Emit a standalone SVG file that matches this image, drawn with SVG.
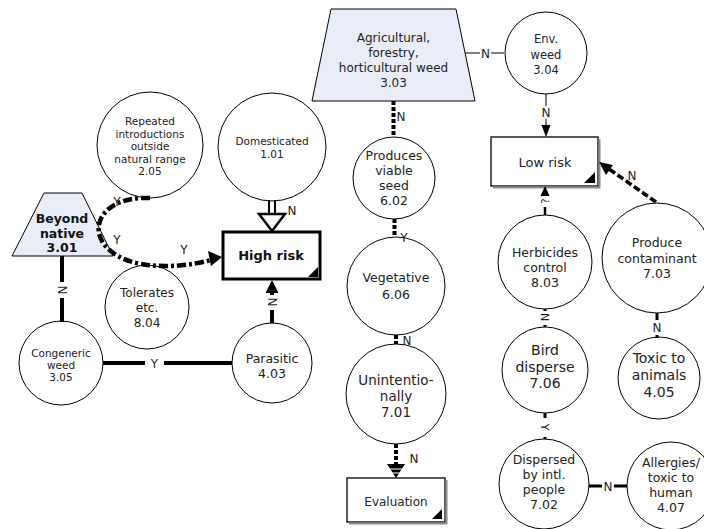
<svg xmlns="http://www.w3.org/2000/svg" width="704" height="529" viewBox="0 0 704 529">
<style>
text{font-family:"DejaVu Sans",Verdana,sans-serif;fill:#222;text-anchor:middle}
.c{fill:#fff;stroke:#000;stroke-width:1}
.tz{fill:#e8edf7;stroke:#000;stroke-width:1}
.bx{fill:#fff;stroke:#000;stroke-width:1.3}
.sh{fill:none;stroke:#8a8a8a;stroke-width:2}
.s10{font-size:10.5px}
.s11{font-size:11.5px}
.s12{font-size:12px}
.s125{font-size:12.5px}
.s13{font-size:13px}
.s135{font-size:13.5px}
.s14{font-size:14px}
.b{font-weight:bold;fill:#111}
.lb{font-size:12px;fill:#222}
.bg{fill:#fff}
.k{fill:none;stroke:#000}
.ah{fill:#000;stroke:none}
.dot{stroke-dasharray:4 2}
.dsh{stroke-dasharray:5 3}
</style>
<defs/>
<g id="n205">
  <circle class="c" cx="150" cy="145" r="53"/>
  <text class="s10"><tspan x="150" y="125">Repeated</tspan><tspan x="150" y="137.5">introductions</tspan><tspan x="150" y="150">outside</tspan><tspan x="150" y="162.5">natural range</tspan><tspan x="150" y="175">2.05</tspan></text>
</g>
<g id="n101">
  <circle class="c" cx="272" cy="147" r="54"/>
  <text class="s10"><tspan x="272" y="145">Domesticated</tspan><tspan x="272" y="157.5">1.01</tspan></text>
</g>
<g id="n301">
  <polygon class="tz" points="44,193 82,193 113,256 12,256"/>
  <text class="b" style="font-size:12.5px"><tspan x="62" y="223">Beyond</tspan><tspan x="62" y="237.5">native</tspan><tspan x="62" y="252">3.01</tspan></text>
</g>
<g id="highrisk">
  <rect x="223" y="232" width="97" height="47" fill="#fff" stroke="#000" stroke-width="3"/>
  <polygon class="ah" points="318,267 318,277 308,277"/>
  <text class="b s13" x="271" y="259.5">High risk</text>
</g>
<g id="n804">
  <circle class="c" cx="147" cy="307" r="42"/>
  <text class="s12"><tspan x="147" y="297">Tolerates</tspan><tspan x="147" y="312">etc.</tspan><tspan x="147" y="327">8.04</tspan></text>
</g>
<g id="n305">
  <circle class="c" cx="61" cy="363" r="42"/>
  <text class="s10"><tspan x="61" y="357">Congeneric</tspan><tspan x="61" y="369">weed</tspan><tspan x="61" y="381">3.05</tspan></text>
</g>
<g id="n403">
  <circle class="c" cx="272" cy="363" r="40"/>
  <text class="s125"><tspan x="272" y="363">Parasitic</tspan><tspan x="272" y="378">4.03</tspan></text>
</g>
<g id="n303">
  <polygon class="tz" points="331,9 456,9 475,101 312,101"/>
  <text class="s12"><tspan x="393.5" y="42">Agricultural,</tspan><tspan x="393.5" y="57">forestry,</tspan><tspan x="393.5" y="72">horticultural weed</tspan><tspan x="393.5" y="87">3.03</tspan></text>
</g>
<g id="n304">
  <circle class="c" cx="546" cy="53" r="41"/>
  <text class="s11"><tspan x="546" y="43">Env.</tspan><tspan x="546" y="58.5">weed</tspan><tspan x="546" y="74">3.04</tspan></text>
</g>
<g id="lowrisk">
  <rect class="bx" x="491" y="137" width="107" height="49"/>
  <path class="sh" d="M599.5,139 V187.5 H493"/>
  <polygon class="ah" points="595,172 595,183 584,183"/>
  <text class="s13" x="545" y="167">Low risk</text>
</g>
<g id="n602">
  <circle class="c" cx="394" cy="178" r="41"/>
  <text class="s125"><tspan x="394" y="160">Produces</tspan><tspan x="394" y="175">viable</tspan><tspan x="394" y="190">seed</tspan><tspan x="394" y="205">6.02</tspan></text>
</g>
<g id="n606">
  <circle class="c" cx="396" cy="286" r="49"/>
  <text class="s125"><tspan x="396" y="282">Vegetative</tspan><tspan x="396" y="299">6.06</tspan></text>
</g>
<g id="n701">
  <circle class="c" cx="396" cy="394" r="50"/>
  <text class="s135"><tspan x="396" y="385">Unintentio-</tspan><tspan x="396" y="401">nally</tspan><tspan x="396" y="417">7.01</tspan></text>
</g>
<g id="evaluation">
  <rect class="bx" x="347" y="478" width="98" height="44"/>
  <path class="sh" d="M446.5,480 V523.5 H349"/>
  <polygon class="ah" points="442,509 442,519 432,519"/>
  <text class="s12" x="396" y="506">Evaluation</text>
</g>
<g id="n803">
  <circle class="c" cx="545" cy="262" r="47"/>
  <text class="s125"><tspan x="545" y="257">Herbicides</tspan><tspan x="545" y="272">control</tspan><tspan x="545" y="287">8.03</tspan></text>
</g>
<g id="n703">
  <circle class="c" cx="657" cy="258" r="55"/>
  <text class="s125"><tspan x="657" y="247">Produce</tspan><tspan x="657" y="263">contaminant</tspan><tspan x="657" y="278">7.03</tspan></text>
</g>
<g id="n706">
  <circle class="c" cx="545" cy="370" r="43"/>
  <text class="s14"><tspan x="545" y="355">Bird</tspan><tspan x="545" y="372">disperse</tspan><tspan x="545" y="388">7.06</tspan></text>
</g>
<g id="n405">
  <circle class="c" cx="659" cy="378" r="41"/>
  <text class="s14"><tspan x="659" y="363">Toxic to</tspan><tspan x="659" y="380">animals</tspan><tspan x="659" y="397">4.05</tspan></text>
</g>
<g id="n702">
  <circle class="c" cx="544" cy="484" r="45"/>
  <text class="s125"><tspan x="544" y="464">Dispersed</tspan><tspan x="544" y="479">by intl.</tspan><tspan x="544" y="494">people</tspan><tspan x="544" y="509">7.02</tspan></text>
</g>
<g id="n407">
  <circle class="c" cx="671" cy="486" r="44"/>
  <text class="s125"><tspan x="671" y="467">Allergies/</tspan><tspan x="671" y="482">toxic to</tspan><tspan x="671" y="497">human</tspan><tspan x="671" y="512">4.07</tspan></text>
</g>

<g id="connectors">
  <!-- Domesticated -> High risk (double line, hollow head) -->
  <line class="k" x1="269" y1="200" x2="269" y2="214" stroke-width="2"/>
  <line class="k" x1="275" y1="200" x2="275" y2="214" stroke-width="2"/>
  <polygon points="259,214 285,214 272,231" fill="#fff" stroke="#000" stroke-width="2.5"/>
  <text class="lb" x="292" y="215">N</text>
  <!-- Beyond native -> Congeneric -->
  <line class="k" x1="62" y1="256" x2="62" y2="322" stroke-width="4"/>
  <rect class="bg" x="55" y="282" width="14" height="16"/>
  <text class="lb" transform="translate(62,290) rotate(90)" y="4.5">N</text>
  <!-- Congeneric -> Parasitic -->
  <line class="k" x1="103" y1="363" x2="232" y2="363" stroke-width="4"/>
  <rect class="bg" x="145" y="354" width="19" height="18"/>
  <text class="lb" x="154.5" y="367.5">Y</text>
  <!-- Parasitic -> High risk -->
  <line class="k" x1="272" y1="323" x2="272" y2="290" stroke-width="4"/>
  <polygon class="ah" points="272,280 265.5,293 278.5,293"/>
  <rect class="bg" x="265" y="295" width="14" height="15"/>
  <text class="lb" transform="translate(272,302) rotate(-90)" y="4.5">N</text>
  <!-- Repeated / Beyond native -> High risk (dash-dot) -->
  <path class="k" d="M150,198 C128,197 106,204 100,221 C94,238 108,256 136,263 C165,269 192,265 211,260" stroke-width="4.5" stroke-dasharray="9 3 3 3"/>
  <polygon class="ah" points="222,257 208,251 211,266"/>
  <text class="lb" x="117" y="206">Y</text>
  <text class="lb" x="117" y="244">Y</text>
  <text class="lb" x="184" y="254">Y</text>
  <!-- Agricultural -> Produces -->
  <line class="k dot" x1="393.5" y1="101" x2="393.5" y2="137" stroke-width="4"/>
  <text class="lb" x="401" y="121">N</text>
  <!-- Agricultural -> Env weed -->
  <line class="k" x1="465" y1="53" x2="504" y2="53" stroke-width="1"/>
  <rect class="bg" x="480" y="46" width="11" height="14"/>
  <text class="lb" x="485.5" y="57.5">N</text>
  <!-- Env weed -> Low risk -->
  <line class="k" x1="546" y1="94" x2="546" y2="126" stroke-width="1"/>
  <polygon class="ah" points="546,137 541.5,125 550.5,125"/>
  <rect class="bg" x="540" y="106" width="12" height="13"/>
  <text class="lb" x="546" y="117">N</text>
  <!-- Produces -> Vegetative -->
  <line class="k dot" x1="394.5" y1="219" x2="394.5" y2="237" stroke-width="4"/>
  <text class="lb" x="404" y="242">Y</text>
  <!-- Vegetative -> Unintentionally -->
  <line class="k dot" x1="396" y1="335" x2="396" y2="344" stroke-width="4"/>
  <text class="lb" x="407" y="345">N</text>
  <!-- Unintentionally -> Evaluation -->
  <line class="k dot" x1="396" y1="444" x2="396" y2="465" stroke-width="4"/>
  <polygon class="ah" points="387,464 405,464 396,478"/>
  <line x1="386" y1="469" x2="406" y2="469" stroke="#fff" stroke-width="1"/>
  <line x1="386" y1="473" x2="406" y2="473" stroke="#fff" stroke-width="1"/>
  <text class="lb" x="414" y="463">N</text>
  <!-- Herbicides -> Low risk -->
  <line class="k" x1="545" y1="215" x2="545" y2="195" stroke-width="2.5"/>
  <polygon class="ah" points="545,186 540,197 550,197"/>
  <rect class="bg" x="539" y="196" width="12" height="11"/>
  <text class="lb" transform="translate(545,201) rotate(-90)" y="4" style="font-size:10px">?</text>
  <!-- Produce contaminant -> Low risk -->
  <line class="k" x1="656" y1="202" x2="609" y2="169" stroke-width="3.5" stroke-dasharray="7 3"/>
  <polygon class="ah" points="599,162 613,165 606,175"/>
  <text class="lb" x="632" y="180">N</text>
  <!-- Herbicides -> Bird disperse -->
  <line class="k dsh" x1="545" y1="309" x2="545" y2="327" stroke-width="3"/>
  <rect class="bg" x="539" y="311" width="12" height="13"/>
  <text class="lb" transform="translate(545,317) rotate(90)" y="4" style="font-size:11px">N</text>
  <!-- Produce contaminant -> Toxic to animals -->
  <line class="k" x1="657" y1="313" x2="657" y2="338" stroke-width="3"/>
  <rect class="bg" x="651" y="320" width="12" height="15"/>
  <text class="lb" x="657" y="332">N</text>
  <!-- Bird disperse -> Dispersed -->
  <line class="k dsh" x1="545" y1="413" x2="545" y2="439" stroke-width="3"/>
  <rect class="bg" x="539" y="421" width="12" height="13"/>
  <text class="lb" transform="translate(545,427) rotate(90)" y="4" style="font-size:11px">Y</text>
  <!-- Dispersed -> Allergies -->
  <line class="k" x1="589" y1="486" x2="627" y2="486" stroke-width="3"/>
  <rect class="bg" x="602" y="479" width="12" height="14"/>
  <text class="lb" x="608" y="490.5">N</text>
</g>
</svg>
